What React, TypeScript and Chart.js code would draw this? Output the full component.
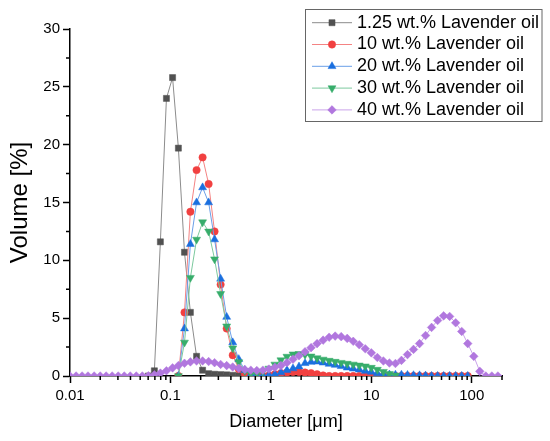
import React, { useEffect, useRef } from 'react';
import { Chart, registerables } from 'chart.js';
import { drawPoint } from 'chart.js/helpers';

Chart.register(...registerables);

// size classes (µm), log spaced bins of the analyser
const diameters = [
  0.01, 0.0115, 0.0132, 0.0151, 0.0174, 0.02, 0.0229, 0.0263, 0.0302, 0.0347, 0.0398, 0.0457,
  0.0525, 0.0603, 0.0692, 0.0794, 0.0912, 0.105, 0.12, 0.138, 0.158, 0.182, 0.209, 0.24,
  0.275, 0.316, 0.363, 0.417, 0.479, 0.55, 0.631, 0.724, 0.832, 0.955, 1.096, 1.259,
  1.445, 1.66, 1.905, 2.188, 2.512, 2.884, 3.311, 3.802, 4.365, 5.012, 5.754, 6.607,
  7.586, 8.71, 10.0, 11.482, 13.183, 15.136, 17.378, 19.953, 22.909, 26.303, 30.2, 34.674,
  39.811, 45.709, 52.481, 60.256, 69.183, 79.433, 91.201, 104.713, 120.226, 138.038, 158.489, 181.97,
];

const _ = null;

const lav125 = [
  _, _, _, _, _, _, _, _, _, _, _, _,
  _, 0, 0.45, 11.6, 24.0, 25.8, 19.7, 10.7, 5.5, 1.7, 0.5, 0.2,
  0.15, 0.12, 0.1, 0.06, 0.03, 0, 0, _, _, _, _, _,
  _, _, _, _, _, _, _, _, _, _, _, _,
  _, _, _, _, _, _, _, _, _, _, _, _,
  _, _, _, _, _, _, _, _, _, _, _, _,
];

const lav10 = [
  _, _, _, _, _, _, _, _, _, _, _, _,
  _, _, _, _, _, _, 0, 5.5, 14.2, 17.8, 18.9, 16.6,
  12.5, 7.9, 4.1, 1.8, 0.6, 0.2, 0.05, 0, 0, 0.05, 0.15, 0.25,
  0.3, 0.35, 0.35, 0.3, 0.25, 0.15, 0.05, 0, 0, 0, 0, 0,
  0, 0, 0, 0, 0, 0, 0, 0, 0, 0, 0, 0,
  0, 0, 0, 0, 0, 0, 0, _, _, _, _, _,
];

const lav20 = [
  _, _, _, _, _, _, _, _, _, _, _, _,
  _, _, _, _, _, _, 0, 4.1, 11.4, 15.0, 16.3, 15.0,
  11.8, 8.4, 5.1, 2.9, 1.45, 0.5, 0.15, 0.05, 0.05, 0.08, 0.15, 0.3,
  0.5, 0.65, 0.81, 1.1, 1.21, 1.24, 1.15, 1.04, 0.95, 0.84, 0.72, 0.63,
  0.55, 0.43, 0.35, 0.23, 0.15, 0.12, 0.1, 0.1, 0.08, 0.06, 0.05, 0.03,
  0, 0, 0, 0, 0, 0, 0, _, _, _, _, _,
];

const lav30 = [
  _, _, _, _, _, _, _, _, _, _, _, _,
  _, _, _, _, _, _, 0, 2.9, 8.5, 11.8, 13.3, 12.5,
  10.1, 7.1, 4.3, 2.4, 1.2, 0.45, 0.2, 0.22, 0.38, 0.65, 1.0, 1.37,
  1.68, 1.88, 1.92, 1.85, 1.7, 1.55, 1.43, 1.33, 1.24, 1.15, 1.07, 1.0,
  0.92, 0.84, 0.72, 0.55, 0.37, 0.18, 0.05, _, _, _, _, _,
  _, _, _, _, _, _, _, _, _, _, _, _,
];

const lav40 = [
  0, 0, 0, 0, 0, 0, 0, 0, 0, 0, 0, 0,
  0, 0.02, 0.1, 0.25, 0.45, 0.7, 0.9, 1.1, 1.22, 1.3, 1.3, 1.25,
  1.15, 1.0, 0.9, 0.78, 0.66, 0.56, 0.5, 0.47, 0.5, 0.6, 0.75, 0.9,
  1.15, 1.45, 1.75, 2.1, 2.45, 2.8, 3.1, 3.35, 3.45, 3.4, 3.25, 3.0,
  2.7, 2.35, 2.0, 1.6, 1.3, 1.12, 1.08, 1.35, 1.85, 2.3, 2.8, 3.5,
  4.2, 4.8, 5.2, 5.15, 4.6, 3.85, 2.8, 1.7, 0.4, 0, 0, 0,
];

const seriesLabels = [
  '1.25 wt.% Lavender oil',
  '10 wt.% Lavender oil',
  '20 wt.% Lavender oil',
  '30 wt.% Lavender oil',
  '40 wt.% Lavender oil',
];

const xMajorTicks = [0.01, 0.1, 1, 10, 100];
const xMinorTicks = [
  0.02, 0.03, 0.04, 0.05, 0.06, 0.07, 0.08, 0.09,
  0.2, 0.3, 0.4, 0.5, 0.6, 0.7, 0.8, 0.9,
  2, 3, 4, 5, 6, 7, 8, 9,
  20, 30, 40, 50, 60, 70, 80, 90, 200,
];
const yMinorTicks = [2.5, 7.5, 12.5, 17.5, 22.5, 27.5];

const FONT = '"Liberation Sans", Arial, sans-serif';

const toPoints = (values: (number | null)[]) =>
  diameters.map((d, i) => ({ x: d, y: values[i] })).filter(p => p.y !== null);

// minor ticks are shorter than the major ones
const minorTicksPlugin = {
  id: 'minorTicks',
  afterDraw(chart: any) {
    const { ctx, chartArea, scales } = chart;
    ctx.save();
    ctx.strokeStyle = '#000';
    ctx.lineWidth = 1.5;
    ctx.beginPath();
    xMinorTicks.forEach(v => {
      const px = scales.x.getPixelForValue(v);
      ctx.moveTo(px, chartArea.bottom);
      ctx.lineTo(px, chartArea.bottom + 4);
    });
    yMinorTicks.forEach(v => {
      const py = scales.y.getPixelForValue(v);
      ctx.moveTo(chartArea.left, py);
      ctx.lineTo(chartArea.left - 4, py);
    });
    ctx.stroke();
    ctx.restore();
  },
};

// Origin style legend: line with the marker in the middle
const legendBoxPlugin = {
  id: 'legendBox',
  afterDraw(chart: any) {
    const ctx = chart.ctx;
    ctx.save();
    ctx.fillStyle = '#fff';
    ctx.strokeStyle = '#666';
    ctx.lineWidth = 1;
    ctx.fillRect(305.5, 9.5, 236.5, 112);
    ctx.strokeRect(305.5, 9.5, 236.5, 112);
    chart.data.datasets.forEach((ds: any, i: number) => {
      const y = 22.7 + i * 21.8;
      ctx.strokeStyle = ds.borderColor;
      ctx.lineWidth = 1;
      ctx.beginPath();
      ctx.moveTo(312, y);
      ctx.lineTo(352, y);
      ctx.stroke();
      ctx.fillStyle = ds.pointBackgroundColor;
      ctx.strokeStyle = ds.pointBorderColor;
      ctx.lineWidth = ds.pointBorderWidth;
      drawPoint(ctx, {
        pointStyle: ds.pointStyle,
        rotation: ds.pointRotation || 0,
        radius: ds.pointRadius,
        borderWidth: ds.pointBorderWidth,
      }, 332, y);
      ctx.fillStyle = '#000';
      ctx.font = `18px ${FONT}`;
      ctx.textBaseline = 'middle';
      ctx.textAlign = 'left';
      ctx.fillText(ds.label, 357, y);
    });
    ctx.restore();
  },
};

const styles = [
  { marker: '#515151', line: '#8c8c8c', pointStyle: 'rect', radius: 4.3, rotation: 0 },
  { marker: '#F14040', line: '#f48383', pointStyle: 'circle', radius: 3.7, rotation: 0 },
  { marker: '#1A6FDF', line: '#6a9fe8', pointStyle: 'triangle', radius: 4.6, rotation: 0 },
  { marker: '#37AD6B', line: '#7cc99e', pointStyle: 'triangle', radius: 4.6, rotation: 180 },
  { marker: '#B177DE', line: '#caa3ea', pointStyle: 'rectRot', radius: 4.3, rotation: 0 },
];

const App: React.FC = () => {
  const chartRef = useRef<HTMLCanvasElement>(null);
  const chartInstance = useRef<Chart | null>(null);

  useEffect(() => {
    document.body.style.margin = '0';
    if (!chartRef.current) return;
    if (chartInstance.current) chartInstance.current.destroy();

    const ctx = chartRef.current.getContext('2d');
    if (!ctx) return;

    Chart.defaults.font.family = FONT;
    Chart.defaults.color = '#000';

    const allSeries = [lav125, lav10, lav20, lav30, lav40];

    chartInstance.current = new Chart(ctx, {
      type: 'line',
      data: {
        datasets: allSeries.map((values, i) => ({
          label: seriesLabels[i],
          data: toPoints(values),
          borderColor: styles[i].line,
          borderWidth: 1,
          backgroundColor: styles[i].marker,
          pointBackgroundColor: styles[i].marker,
          pointBorderColor: styles[i].marker,
          pointBorderWidth: 0.5,
          pointStyle: styles[i].pointStyle,
          pointRotation: styles[i].rotation,
          pointRadius: styles[i].radius,
          tension: 0,
          fill: false,
          clip: 0,
          order: 5 - i, // later series drawn on top
        })) as any,
      },
      options: {
        animation: false,
        responsive: true,
        maintainAspectRatio: false,
        layout: { padding: { top: 29, right: 48, left: 0, bottom: 0 } },
        plugins: {
          legend: { display: false },
          tooltip: { enabled: false },
        },
        scales: {
          x: {
            type: 'logarithmic',
            min: 0.01,
            max: 200,
            afterBuildTicks: (scale: any) => {
              scale.ticks = xMajorTicks.map(v => ({ value: v }));
            },
            afterFit: (scale: any) => {
              scale.height = 65;
            },
            ticks: {
              autoSkip: false,
              maxRotation: 0,
              padding: 4,
              font: { size: 15 },
              color: '#000',
              callback: (value: any) => String(value),
            },
            grid: {
              drawOnChartArea: false,
              drawTicks: true,
              tickLength: 7,
              tickWidth: 1.5,
              tickColor: '#000',
            },
            border: { display: true, color: '#000', width: 1.5 },
            title: {
              display: true,
              text: 'Diameter [\u03bcm]',
              font: { size: 18 },
              color: '#000',
              padding: { top: 0, bottom: 8 },
            },
          },
          y: {
            type: 'linear',
            min: 0,
            max: 30,
            afterFit: (scale: any) => {
              scale.width = 70;
            },
            ticks: {
              stepSize: 5,
              padding: 3,
              font: { size: 15 },
              color: '#000',
            },
            grid: {
              drawOnChartArea: false,
              drawTicks: true,
              tickLength: 7,
              tickWidth: 1.5,
              tickColor: '#000',
            },
            border: { display: true, color: '#000', width: 1.5 },
            title: {
              display: true,
              text: 'Volume [%]',
              font: { size: 24 },
              color: '#000',
              padding: { top: 6, bottom: 0 },
            },
          },
        },
      },
      plugins: [minorTicksPlugin, legendBoxPlugin],
    });

    return () => {
      if (chartInstance.current) {
        chartInstance.current.destroy();
        chartInstance.current = null;
      }
    };
  }, []);

  return (
    <div style={{ width: 550, height: 441, position: 'relative' }}>
      <canvas ref={chartRef}></canvas>
    </div>
  );
};

export default App;
